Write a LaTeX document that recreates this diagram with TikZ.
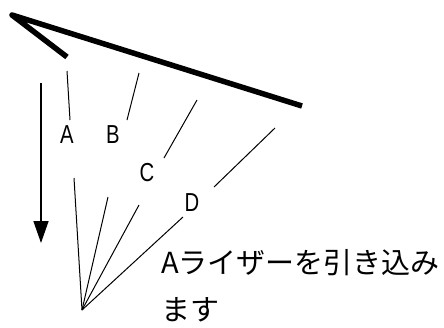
\documentclass[tikz,border=0pt]{standalone}
\usepackage{fontspec}
\setmainfont{Liberation Sans}
\newfontfamily\cjk{Noto Sans CJK JP}
\usetikzlibrary{arrows.meta}
\begin{document}
\begin{tikzpicture}[x=1pt,y=-1pt,
  thin line/.style={draw=black,line width=1pt},
  lbl/.style={inner sep=0pt,font=\fontsize{26}{26}\selectfont,xscale=0.78,transform shape},
  jtxt/.style={inner sep=0pt,anchor=west,font=\cjk\fontsize{29}{30}\selectfont}]
\useasboundingbox (0,0) rectangle (444,327);
% thick bent bar
\coordinate (v) at (12,15);
\coordinate (s) at (67,57);
\coordinate (l) at (302,106);
\draw[line width=5.5pt,line join=round] (s) -- (v) -- (l);
% apex
\coordinate (p) at (82,310);
% labels
\node[lbl] (A) at (67,135) {A};
\node[lbl] (B) at (113,135) {B};
\node[lbl] (C) at (147,173) {C};
\node[lbl] (D) at (192,203) {D};
% upper segments
\coordinate (a1) at (67,71);  \coordinate (a2) at (70,120);
\coordinate (b1) at (139,73); \coordinate (b2) at (127,120);
\coordinate (c1) at (197,100);\coordinate (c2) at (164,158);
\coordinate (d1) at (275,128);\coordinate (d2) at (214,187);
\draw[thin line] (a1) -- (a2);
\draw[thin line] (b1) -- (b2);
\draw[thin line] (c1) -- (c2);
\draw[thin line] (d1) -- (d2);
% lower segments
\coordinate (a3) at (74,178);
\coordinate (b3) at (108,197);
\coordinate (c3) at (139,205);
\coordinate (d3) at (183,217);
\draw[thin line] (a3) -- (p);
\draw[thin line] (b3) -- (p);
\draw[thin line] (c3) -- (p);
\draw[thin line] (d3) -- (p);
% arrow
\coordinate (t0) at (41,83);
\coordinate (t1) at (41,243);
\draw[line width=1.5pt,-{Triangle[length=22pt,width=15pt]}] (t0) -- (t1);
% text
\node[jtxt] (txt1) at (161,263) {Aライザーを引き込み};
\node[jtxt] (txt2) at (161,310) {ます};
\end{tikzpicture}
\end{document}
